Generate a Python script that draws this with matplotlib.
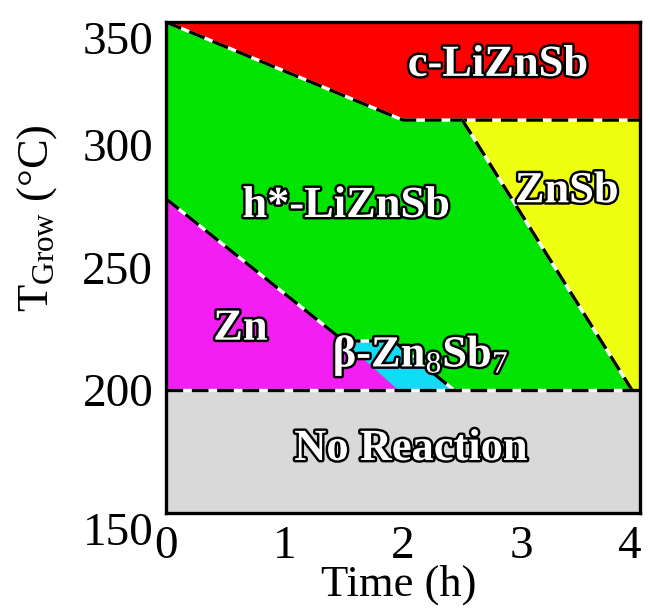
import matplotlib
matplotlib.use("Agg")
import matplotlib.pyplot as plt
import matplotlib.patheffects as pe

plt.rcParams.update({
    "font.family": "Liberation Serif",
    "mathtext.fontset": "custom",
    "mathtext.rm": "Liberation Serif",
    "mathtext.it": "Liberation Serif:italic",
})

# phase boundaries (time in h, temperature in C)
c_time = [0, 2, 4]
c_temp = [350, 310, 310]
znsb_time = [2.5, 4, 4, 3.93]
znsb_temp = [310, 310, 200, 200]
zn_time = [0, 1.5, 1.96, 0]
zn_temp = [278, 220, 200, 200]
beta_time = [1.5, 1.92, 2.43, 1.96]
beta_temp = [220, 220, 200, 200]
h_line_time = [0, 1.5, 1.92, 2.43]
h_line_temp = [278, 220, 220, 200]
znsb_line_time = [2.5, 3.93]
znsb_line_temp = [310, 200]
floor_temp = 200

labels = ["c-LiZnSb", "ZnSb", "h*-LiZnSb", "Zn",
          r"β-Zn$_{8}$Sb$_{7}$", "No Reaction"]
label_time = [2.8, 3.38, 1.52, 0.63, 2.15, 2.07]
label_temp = [332.5, 281, 275, 225, 214, 176]

COLORS = {
    "h": "#00e400",
    "c": "#ff0000",
    "znsb": "#eeff10",
    "zn": "#f21ef2",
    "beta": "#10dcf5",
    "none": "#d9d9d9",
}

fig = plt.figure(figsize=(6.5, 6.09), dpi=100)
ax = fig.add_axes([0.255, 0.158, 0.73, 0.806])
ax.set_xlim(0, 4)
ax.set_ylim(150, 350)

ax.fill_between([0, 4], 200, 350, color=COLORS["h"], lw=0)
ax.fill_between([0, 4], 150, floor_temp, color=COLORS["none"], lw=0)
ax.fill_between(c_time, c_temp, 350, color=COLORS["c"], lw=0)
ax.fill(znsb_time, znsb_temp, color=COLORS["znsb"], lw=0)
ax.fill(zn_time, zn_temp, color=COLORS["zn"], lw=0)
ax.fill(beta_time, beta_temp, color=COLORS["beta"], lw=0)


def dashed(x, y):
    ax.plot(x, y, color="white", lw=2.4, solid_capstyle="butt")
    ax.plot(x, y, color="black", lw=2.4, linestyle=(0, (5, 2.6)))


dashed(c_time, c_temp)
dashed(znsb_line_time, znsb_line_temp)
dashed(h_line_time, h_line_temp)
dashed([0, 4], [floor_temp, floor_temp])

for txt, x, y in zip(labels, label_time, label_temp):
    ax.text(x, y, txt, ha="center", va="center", fontsize=32,
            fontweight="bold", color="white",
            path_effects=[pe.withStroke(linewidth=3.5, foreground="black")])

for s in ax.spines.values():
    s.set_linewidth(2.4)

ax.set_xticks([0, 1, 2, 3, 4])
ax.set_yticks([150, 200, 250, 300, 350])
ax.tick_params(length=0, labelsize=34, pad=9)
ylabs = ax.get_yticklabels()
ylabs[0].set_va("top")
ylabs[-1].set_va("top")
xlabs = ax.get_xticklabels()
xlabs[-1].set_ha("right")

ax.set_xlabel("Time (h)", fontsize=32)
ax.xaxis.set_label_coords(0.49, -0.105)
ax.set_ylabel(r"T$_{\mathrm{Grow}}$ (°C)", fontsize=32)
ax.yaxis.set_label_coords(-0.225, 0.6)

fig.savefig("out.png", dpi=100)
